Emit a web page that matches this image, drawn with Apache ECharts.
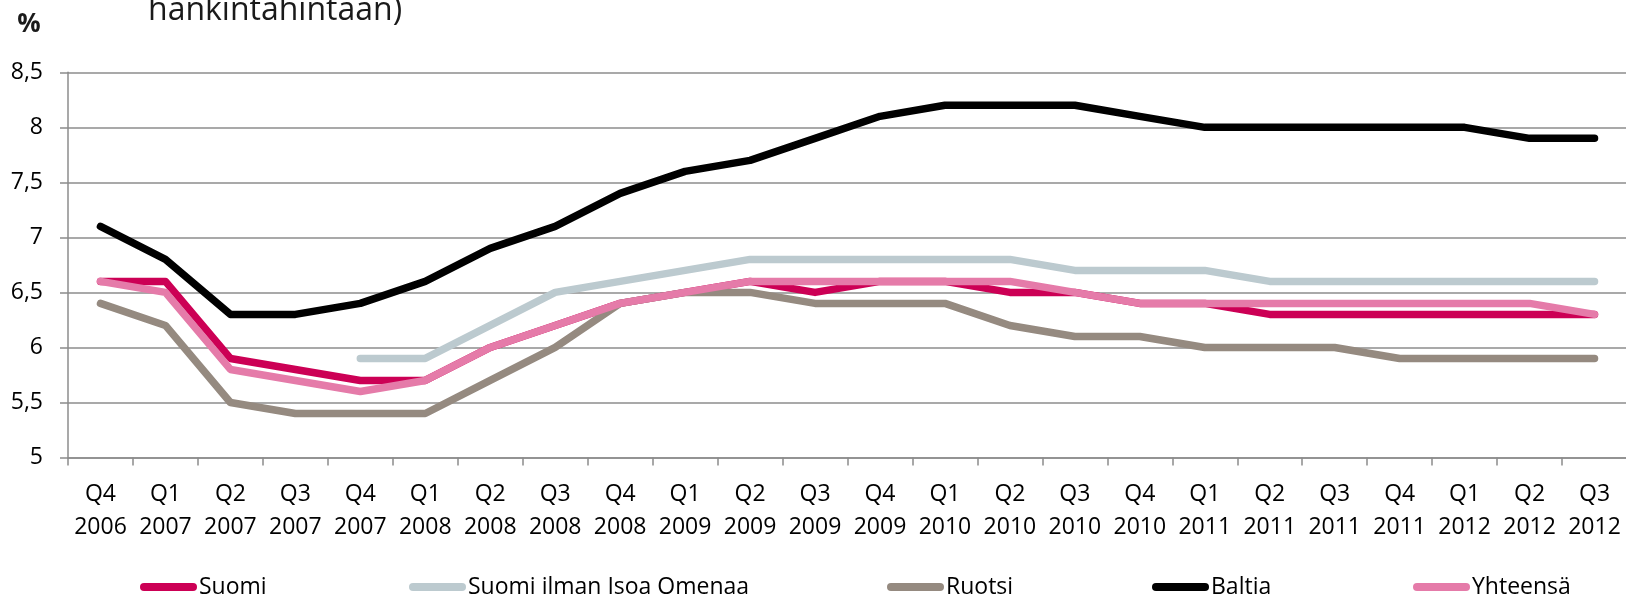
<!DOCTYPE html>
<html>
<head>
<meta charset="utf-8">
<title>Nettotuotto</title>
<script src="https://cdn.jsdelivr.net/npm/echarts@6/dist/echarts.min.js"></script>
<style>
  html, body { margin: 0; padding: 0; background: #ffffff; }
  #chart { width: 1626px; height: 597px; }
</style>
</head>
<body>
<div id="chart"></div>
<script>
// Quarterly categories, Q4 2006 – Q3 2012
const categories = [
  'Q4\n2006', 'Q1\n2007', 'Q2\n2007', 'Q3\n2007', 'Q4\n2007', 'Q1\n2008',
  'Q2\n2008', 'Q3\n2008', 'Q4\n2008', 'Q1\n2009', 'Q2\n2009', 'Q3\n2009',
  'Q4\n2009', 'Q1\n2010', 'Q2\n2010', 'Q3\n2010', 'Q4\n2010', 'Q1\n2011',
  'Q2\n2011', 'Q3\n2011', 'Q4\n2011', 'Q1\n2012', 'Q2\n2012', 'Q3\n2012'
];

// Yield, %
const suomi = [6.6, 6.6, 5.9, 5.8, 5.7, 5.7, 6.0, 6.2, 6.4, 6.5, 6.6, 6.5,
               6.6, 6.6, 6.5, 6.5, 6.4, 6.4, 6.3, 6.3, 6.3, 6.3, 6.3, 6.3];
const suomiIlmanIsoaOmenaa = [null, null, null, null, 5.9, 5.9, 6.2, 6.5, 6.6, 6.7, 6.8, 6.8,
                              6.8, 6.8, 6.8, 6.7, 6.7, 6.7, 6.6, 6.6, 6.6, 6.6, 6.6, 6.6];
const ruotsi = [6.4, 6.2, 5.5, 5.4, 5.4, 5.4, 5.7, 6.0, 6.4, 6.5, 6.5, 6.4,
                6.4, 6.4, 6.2, 6.1, 6.1, 6.0, 6.0, 6.0, 5.9, 5.9, 5.9, 5.9];
const baltia = [7.1, 6.8, 6.3, 6.3, 6.4, 6.6, 6.9, 7.1, 7.4, 7.6, 7.7, 7.9,
                8.1, 8.2, 8.2, 8.2, 8.1, 8.0, 8.0, 8.0, 8.0, 8.0, 7.9, 7.9];
const yhteensa = [6.6, 6.5, 5.8, 5.7, 5.6, 5.7, 6.0, 6.2, 6.4, 6.5, 6.6, 6.6,
                  6.6, 6.6, 6.6, 6.5, 6.4, 6.4, 6.4, 6.4, 6.4, 6.4, 6.4, 6.3];

const seriesNames = ['Suomi', 'Suomi ilman Isoa Omenaa', 'Ruotsi', 'Baltia', 'Yhteensä'];
const seriesData = [suomi, suomiIlmanIsoaOmenaa, ruotsi, baltia, yhteensa];
const seriesColors = ['#cc0055', '#bccacf', '#958a80', '#000000', '#e57ba9'];
const legendLeft = [135, 404, 882, 1147, 1408];

const FONT = '"Open Sans", "Noto Sans", sans-serif';
const GRID_COLOR = '#8c8c8c';
const CAPSULE = 'path://M4,0 L53,0 A4,4 0 0 1 53,8 L4,8 A4,4 0 0 1 4,0 Z';

const chart = echarts.init(document.getElementById('chart'), null, { renderer: 'canvas' });

chart.setOption({
  animation: false,
  backgroundColor: '#ffffff',
  textStyle: { fontFamily: FONT },
  grid: {
    left: 68, top: 72.3, width: 1559, height: 385.2,
    containLabel: false, outerBoundsMode: 'none'
  },
  graphic: [
    {
      type: 'text',
      style: {
        text: 'hankintahintaan)', x: 148, y: 11,
        verticalAlign: 'middle', align: 'left',
        fontFamily: FONT, fontSize: 32, fill: '#1a1a1a'
      }
    },
    {
      type: 'text',
      style: {
        text: '%', x: 29, y: 25,
        verticalAlign: 'middle', align: 'center',
        fontFamily: FONT, fontSize: 26, fontWeight: 'bold', fill: '#1a1a1a'
      }
    }
  ],
  legend: seriesNames.map((name, i) => ({
    data: [name],
    left: legendLeft[i],
    top: 570,
    orient: 'horizontal',
    icon: CAPSULE,
    itemWidth: 57,
    itemHeight: 9,
    selectedMode: false,
    textStyle: {
      fontFamily: FONT, fontSize: 23, color: '#000000',
      lineHeight: 24, padding: [0, 0, 0, -3]
    }
  })),
  xAxis: {
    type: 'category',
    data: categories,
    boundaryGap: true,
    axisLine: { show: true, lineStyle: { color: GRID_COLOR, width: 1.5 } },
    axisTick: {
      show: true, interval: 0, alignWithLabel: false, length: 8,
      lineStyle: { color: GRID_COLOR, width: 1.5 }
    },
    axisLabel: {
      interval: 0, margin: 20, hideOverlap: false,
      fontFamily: FONT, fontSize: 23, lineHeight: 33, color: '#000000', align: 'center'
    },
    splitLine: { show: false }
  },
  yAxis: {
    type: 'value',
    min: 5, max: 8.5, interval: 0.5,
    axisLine: { show: true, lineStyle: { color: GRID_COLOR, width: 1.5 } },
    axisTick: { show: true, length: 8, lineStyle: { color: GRID_COLOR, width: 1.5 } },
    axisLabel: {
      margin: 25, fontFamily: FONT, fontSize: 23, color: '#000000',
      formatter: v => String(v).replace('.', ',')
    },
    splitLine: { show: true, lineStyle: { color: GRID_COLOR, width: 1.5 } }
  },
  series: seriesNames.map((name, i) => ({
    name: name,
    type: 'line',
    data: seriesData[i],
    showSymbol: false,
    symbol: 'none',
    connectNulls: false,
    color: seriesColors[i],
    lineStyle: { color: seriesColors[i], width: 7.5, cap: 'round', join: 'round' },
    emphasis: { disabled: true },
    z: 2 + i
  }))
});
</script>
</body>
</html>
